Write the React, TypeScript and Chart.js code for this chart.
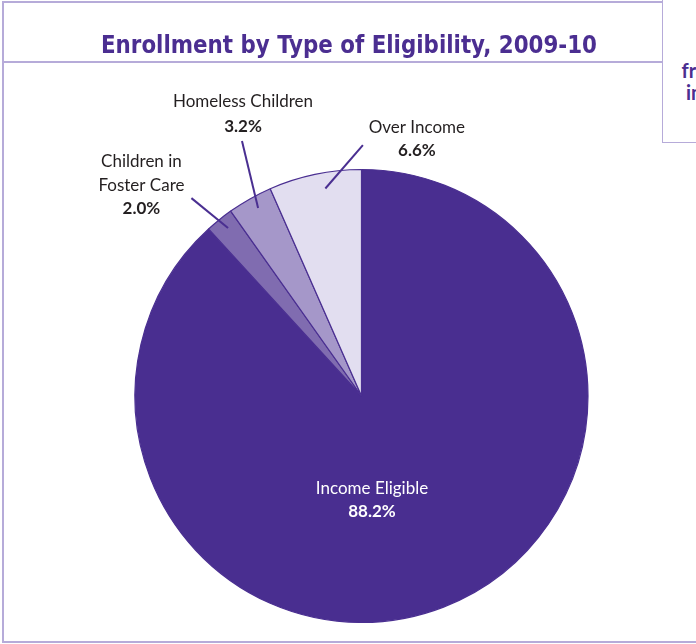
import React, { useEffect, useRef } from "react";
import { Chart, registerables } from "chart.js";

Chart.register(...registerables);

const TITLE = "Enrollment by Type of Eligibility, 2009-10";
const CATEGORIES = ["Income Eligible", "Children in Foster Care", "Homeless Children", "Over Income"];
const LABEL_LINES = [["Income Eligible"], ["Children in", "Foster Care"], ["Homeless Children"], ["Over Income"]];
const VALUES = [88.2, 2.0, 3.2, 6.6];
const PCT_LABELS = ["88.2%", "2.0%", "3.2%", "6.6%"];
const COLORS = ["#492e90", "#806cb0", "#a597c9", "#e2def0"];

const DARK = "#4a2f91";
const FRAME = "#b6abd9";

// label layout: leader (inner/outer polar relative to slice mid angle), text offsets
const LAYOUT = [
  { leader: false, dx: 10.5, dy: 98.3, gap: 22.4, color: "#ffffff" },
  { leader: true, inOff: 0.4, inR: 0.947, outOff: -1.8, outR: 1.152, dx: -50, dy: -30.7, gap: 23.3, color: "#231f20" },
  { leader: true, inOff: 0.7, inR: 0.947, outOff: 4.4, outR: 1.243, dx: 1, dy: -34.3, gap: 25, color: "#231f20" },
  { leader: true, inOff: 2.0, inR: 0.93, outOff: 12.2, outR: 1.108, dx: 54, dy: -11.7, gap: 22.7, color: "#231f20" },
];

const FONT = "Lato, 'Open Sans', sans-serif";

const decorPlugin = {
  id: "decor",
  afterDatasetsDraw(chart: any) {
    const ctx = chart.ctx as CanvasRenderingContext2D;
    // title
    ctx.save();
    ctx.font = "bold 25px 'Liberation Sans Narrow', 'DejaVu Sans Condensed', sans-serif";
    ctx.fillStyle = "#4b2e91";
    ctx.textAlign = "center";
    ctx.textBaseline = "alphabetic";
    const w = ctx.measureText(TITLE).width;
    const sx = 496 / w;
    ctx.translate(349, 53.3);
    ctx.scale(sx, 1);
    ctx.fillText(TITLE, 0, 0);
    ctx.restore();

    const meta = chart.getDatasetMeta(0);
    meta.data.forEach((arc: any, i: number) => {
      const p = arc.getProps(["x", "y", "startAngle", "endAngle", "outerRadius"], true);
      const mid = (p.startAngle + p.endAngle) / 2;
      const lay = LAYOUT[i];
      const r = p.outerRadius;
      let ax = p.x;
      let ay = p.y;
      if (lay.leader) {
        const a1 = mid + ((lay.inOff as number) * Math.PI) / 180;
        const a2 = mid + ((lay.outOff as number) * Math.PI) / 180;
        const x1 = p.x + Math.cos(a1) * r * (lay.inR as number);
        const y1 = p.y + Math.sin(a1) * r * (lay.inR as number);
        const x2 = p.x + Math.cos(a2) * r * (lay.outR as number);
        const y2 = p.y + Math.sin(a2) * r * (lay.outR as number);
        ctx.save();
        ctx.strokeStyle = DARK;
        ctx.lineWidth = 2;
        ctx.beginPath();
        ctx.moveTo(x1, y1);
        ctx.lineTo(x2, y2);
        ctx.stroke();
        ctx.restore();
        ax = x2;
        ay = y2;
      }
      ctx.save();
      ctx.fillStyle = lay.color;
      ctx.textAlign = "center";
      ctx.textBaseline = "alphabetic";
      const tx = ax + lay.dx;
      let ty = ay + lay.dy;
      ctx.font = `17px ${FONT}`;
      LABEL_LINES[i].forEach((line) => {
        ctx.fillText(line, tx, ty);
        ty += lay.gap;
      });
      ctx.font = `bold 17px ${FONT}`;
      ctx.fillText(PCT_LABELS[i], tx, ty);
      ctx.restore();
    });
  },
};

export default function App() {
  const ref = useRef<HTMLCanvasElement>(null);
  useEffect(() => {
    if (!ref.current) return;
    const chart = new Chart(ref.current, {
      type: "pie",
      data: {
        labels: CATEGORIES,
        datasets: [
          {
            data: VALUES,
            backgroundColor: COLORS,
            borderColor: DARK,
            borderWidth: 1.2,
          },
        ],
      },
      options: {
        animation: false,
        responsive: false,
        radius: 226.5,
        rotation: 0,
        layout: { padding: { left: 27, right: 0, top: 148, bottom: 0 } },
        plugins: { legend: { display: false }, tooltip: { enabled: false }, title: { display: false } },
      } as any,
      plugins: [decorPlugin],
    });
    return () => chart.destroy();
  }, []);

  return (
    <div style={{ position: "fixed", left: 0, top: 0, width: 696, height: 644, background: "#fff", overflow: "hidden" }}>
      <div
        style={{
          position: "absolute",
          left: 2,
          top: 1,
          width: 800,
          height: 642,
          boxSizing: "border-box",
          borderTop: `2px solid ${FRAME}`,
          borderLeft: `2px solid ${FRAME}`,
          borderBottom: `2px solid ${FRAME}`,
        }}
      />
      <div style={{ position: "absolute", left: 2, top: 61, width: 700, height: 1.5, background: FRAME }} />
      <canvas ref={ref} width={696} height={644} style={{ position: "absolute", left: 0, top: 0, width: 696, height: 644 }} />
      <div
        style={{
          position: "absolute",
          left: 662,
          top: -5,
          width: 80,
          height: 148,
          boxSizing: "border-box",
          border: `1.5px solid ${FRAME}`,
          background: "#fff",
          fontFamily: FONT,
          fontWeight: "bold",
          fontSize: 20,
          color: "#4b2e91",
        }}
      >
        <div style={{ position: "absolute", left: 18.5, top: 63, lineHeight: "22px" }}>fr</div>
        <div style={{ position: "absolute", left: 23, top: 85, lineHeight: "22px" }}>in</div>
      </div>
    </div>
  );
}
